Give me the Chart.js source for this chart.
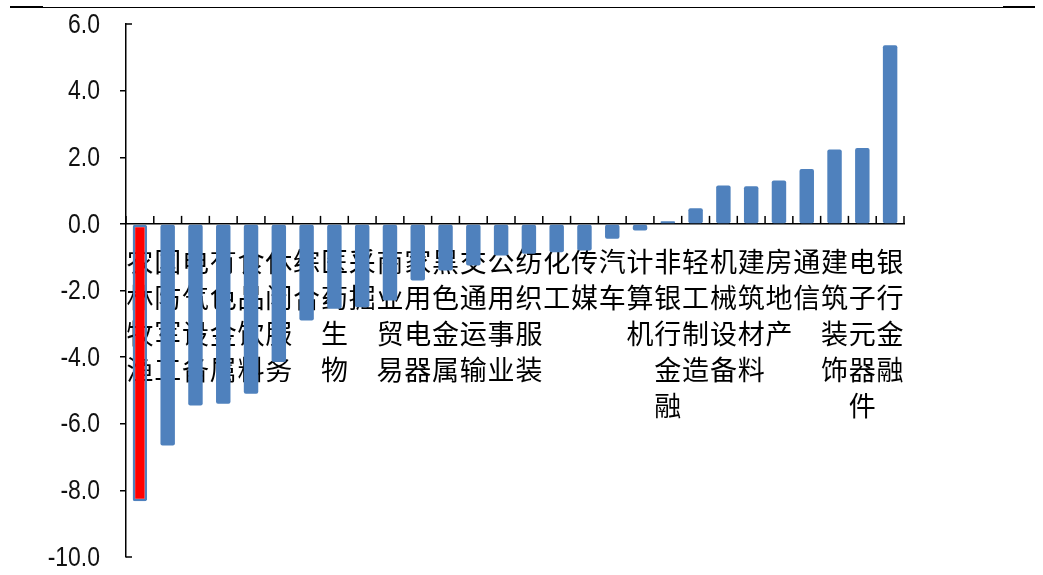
<!DOCTYPE html>
<html>
<head>
<meta charset="utf-8">
<script src="https://cdn.jsdelivr.net/npm/chart.js@4.4.0/dist/chart.umd.min.js"></script>
<style>
	body { margin: 0; background: #fff; }
	#wrap { position: relative; width: 1043px; height: 575px; }
	.raya { position: absolute; background: #000; }
</style>
</head>
<body>
<div id="wrap">
	<canvas id="grafico"></canvas>
	<div class="raya" style="left:10px;top:7px;width:1025px;height:1px"></div>
	<div class="raya" style="left:10px;top:6px;width:33px;height:2px"></div>
	<div class="raya" style="left:1003px;top:6px;width:32px;height:2px"></div>
</div>
<script>
// sectores (orden del grafico) y variacion en %
const categorias = [
	"农林牧渔", "国防军工", "电气设备", "有色金属", "食品饮料", "休闲服务", "综合",
	"医药生物", "采掘", "商业贸易", "家用电器", "黑色金属", "交通运输", "公用事业",
	"纺织服装", "化工", "传媒", "汽车", "计算机", "非银行金融", "轻工制造",
	"机械设备", "建筑材料", "房地产", "通信", "建筑装饰", "电子元器件", "银行金融",
];
const valores = [
	-8.33, -6.65, -5.45, -5.4, -5.1, -4.15, -2.9,
	-2.55, -2.5, -2.3, -1.7, -1.4, -1.25, -0.95,
	-0.9, -0.85, -0.8, -0.45, -0.2, 0.08, 0.47,
	1.15, 1.13, 1.3, 1.65, 2.23, 2.28, 5.36,
];
const ticksY = [-10, -8, -6, -4, -2, 0, 2, 4, 6];
const minY = -10;
const maxY = 6;

const azul = "#4F81BD";
const rojo = "#FF0000";

// marcas cortas hacia arriba en el eje x (entre categorias)
// y las marcas hacia la derecha en los extremos del eje y
const marcas = {
	id: "marcas",
	afterDraw(chart) {
		const x = chart.scales.x;
		const y = chart.scales.y;
		const cero = y.getPixelForValue(0);
		const ctx = chart.ctx;
		ctx.save();
		ctx.strokeStyle = "#000";
		ctx.lineWidth = 1.5;
		for (let i = 0; i <= categorias.length; i++) {
			const px = x.getPixelForValue(i - 0.5);
			ctx.beginPath();
			ctx.moveTo(px, cero);
			ctx.lineTo(px, cero - 8);
			ctx.stroke();
		}
		[minY, maxY].forEach((v) => {
			const py = y.getPixelForValue(v);
			ctx.beginPath();
			ctx.moveTo(y.right, py);
			ctx.lineTo(y.right + 6, py);
			ctx.stroke();
		});
		ctx.restore();
	},
};

// etiquetas del eje y, angostas como Arial Narrow
const etiquetasY = {
	id: "etiquetasY",
	afterDraw(chart) {
		const y = chart.scales.y;
		const ctx = chart.ctx;
		ctx.save();
		ctx.fillStyle = "#111";
		ctx.font = "28px 'Liberation Sans'";
		ctx.textAlign = "right";
		ctx.textBaseline = "middle";
		y.ticks.forEach((t) => {
			ctx.save();
			ctx.translate(100, y.getPixelForValue(t.value) + 1);
			ctx.scale(0.82, 1);
			ctx.fillText(t.value.toFixed(1), 0, 0);
			ctx.restore();
		});
		ctx.restore();
	},
};

const data = {
	labels: categorias.map((c) => c.split("")),
	datasets: [
		{
			data: valores,
			backgroundColor: valores.map((v, i) => (i === 0 ? rojo : azul)),
			borderColor: azul,
			borderWidth: valores.map((v, i) => (i === 0 ? 2.5 : 0)),
			borderSkipped: false,
			borderRadius: 2,
			barPercentage: 0.52,
			categoryPercentage: 1,
		},
	],
};

const config = {
	type: "bar",
	data,
	plugins: [marcas, etiquetasY],
	options: {
		responsive: true,
		maintainAspectRatio: false,
		animation: false,
		layout: {
			padding: { left: 0, right: 139, top: 24, bottom: 18 },
		},
		plugins: {
			legend: { display: false },
			tooltip: { enabled: false },
		},
		scales: {
			x: {
				position: { y: 0 },
				z: 1,
				grid: { display: false, drawTicks: false },
				border: { display: true, color: "#000", width: 1.5 },
				ticks: {
					autoSkip: false,
					maxRotation: 0,
					minRotation: 0,
					padding: 20,
					color: "#000",
					font: { family: "'Noto Sans CJK SC'", size: 27, lineHeight: "36px" },
				},
			},
			y: {
				min: minY,
				max: maxY,
				afterFit: (scale) => {
					scale.width = 126;
					scale.paddingTop = 0;
					scale.paddingBottom = 0;
				},
				afterBuildTicks: (scale) => {
					scale.ticks = ticksY.map((v) => ({ value: v }));
				},
				grid: {
					drawOnChartArea: false,
					tickLength: 6,
					lineWidth: 1.5,
					color: (c) => (c.tick && (c.tick.value === minY || c.tick.value === maxY) ? "rgba(0,0,0,0)" : "#000"),
				},
				border: { display: true, color: "#000", width: 1.5 },
				ticks: { display: false },
			},
		},
	},
};

new Chart(document.getElementById("grafico"), config);
</script>
</body>
</html>
